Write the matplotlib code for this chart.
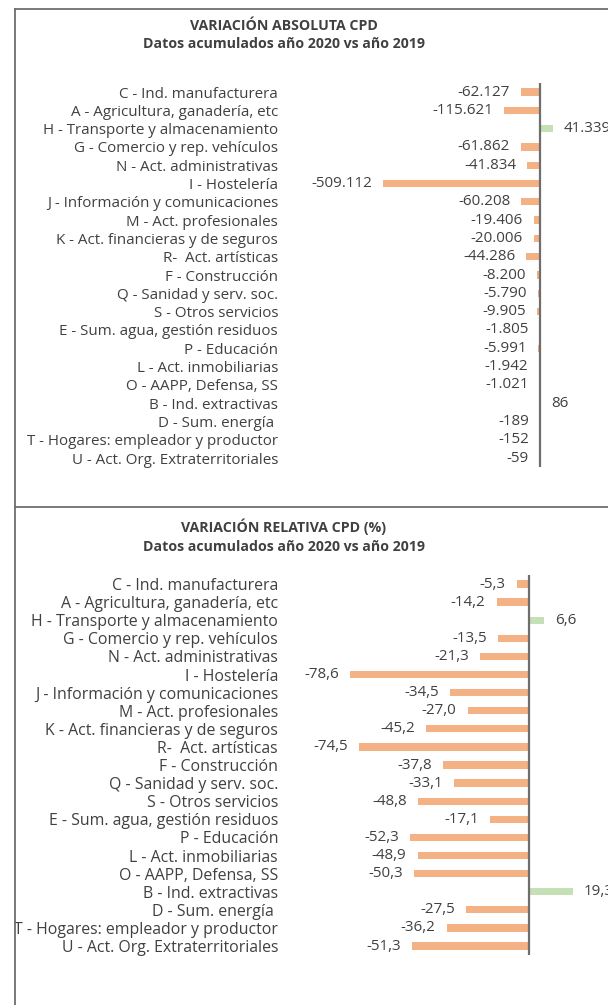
import matplotlib
matplotlib.use("Agg")
import matplotlib.pyplot as plt
from matplotlib.lines import Line2D

plt.rcParams['font.family'] = ['Open Sans', 'DejaVu Sans']

categories = [
    "C - Ind. manufacturera",
    "A - Agricultura, ganadería, etc",
    "H - Transporte y almacenamiento",
    "G - Comercio y rep. vehículos",
    "N - Act. administrativas",
    "I - Hostelería",
    "J - Información y comunicaciones",
    "M - Act. profesionales",
    "K - Act. financieras y de seguros",
    "R-  Act. artísticas",
    "F - Construcción",
    "Q - Sanidad y serv. soc.",
    "S - Otros servicios",
    "E - Sum. agua, gestión residuos",
    "P - Educación",
    "L - Act. inmobiliarias",
    "O - AAPP, Defensa, SS",
    "B - Ind. extractivas",
    "D - Sum. energía ",
    "T - Hogares: empleador y productor",
    "U - Act. Org. Extraterritoriales",
]
abs_values = [-62127, -115621, 41339, -61862, -41834, -509112, -60208, -19406,
              -20006, -44286, -8200, -5790, -9905, -1805, -5991, -1942, -1021,
              86, -189, -152, -59]
rel_values = [-5.3, -14.2, 6.6, -13.5, -21.3, -78.6, -34.5, -27.0, -45.2, -74.5,
              -37.8, -33.1, -48.8, -17.1, -52.3, -48.9, -50.3, 19.3, -27.5,
              -36.2, -51.3]
title_abs = "VARIACIÓN ABSOLUTA CPD\nDatos acumulados año 2020 vs año 2019"
title_rel = "VARIACIÓN RELATIVA CPD (%)\nDatos acumulados año 2020 vs año 2019"

NEG = "#F4B183"
POS = "#C5E0B4"
TXT = "#404040"
LINE = "#6E6E6E"

W, H = 608, 1005
fig = plt.figure(figsize=(W / 100, H / 100), dpi=100)


def px_axes(x0, y0, x1, y1):
    return fig.add_axes([x0 / W, 1 - y1 / H, (x1 - x0) / W, (y1 - y0) / H])


def fmt_abs(v):
    s = f"{abs(v):,}".replace(",", ".")
    return ("-" if v < 0 else "") + s


def fmt_rel(v):
    s = f"{abs(v):.1f}".replace(".", ",")
    return ("-" if v < 0 else "") + s


def panel(values, fmt, ax_px, xlim, fs_cat, fs_val):
    x0, y0, x1, y1 = ax_px
    ax = px_axes(x0, y0, x1, y1)
    n = len(values)
    ypos = list(range(n))
    colors = [NEG if v < 0 else POS for v in values]
    ax.barh(ypos, values, height=0.4, color=colors, zorder=2)
    ax.set_xlim(*xlim)
    ax.set_ylim(n - 0.5, -0.5)
    ax.axvline(0, color=LINE, lw=1.6, zorder=3)
    for s in ax.spines.values():
        s.set_visible(False)
    ax.set_xticks([])
    ax.set_yticks(ypos)
    ax.set_yticklabels(categories, fontsize=fs_cat, color=TXT)
    ax.tick_params(axis='y', length=0, pad=5)
    for y, v in zip(ypos, values):
        if v < 0:
            ax.annotate(fmt(v), (v, y), xytext=(-8, 0), textcoords='offset points',
                        ha='right', va='center', fontsize=fs_val, color=TXT,
                        annotation_clip=False)
        else:
            ax.annotate(fmt(v), (v, y), xytext=(8, 0), textcoords='offset points',
                        ha='left', va='center', fontsize=fs_val, color=TXT,
                        annotation_clip=False)
    return ax


# top panel: zero at x=540 px, -509112 at x=383 px; rows 92..458 px
ppu = (540 - 383) / 509112
xl = (-(540 - 285) / ppu, (608 - 540) / ppu)
row = (458 - 92) / 20
panel(abs_values, fmt_abs, (285, 92 - row * 0.5, 608, 458 + row * 0.5), xl, 10.9, 10.9)

# bottom panel: zero at x=529 px, -78.6 at x=350 px; rows 584..946 px
ppu2 = (529 - 350) / 78.6
xl2 = (-(529 - 285) / ppu2, (608 - 529) / ppu2)
row2 = (946 - 584) / 20
panel(rel_values, fmt_rel, (285, 584 - row2 * 0.5, 608, 946 + row2 * 0.5), xl2, 11.4, 10.9)

# titles
fig.text(284 / W, 1 - 35 / H, title_abs, ha='center', va='center', fontsize=10.2,
         fontweight='bold', color=TXT, linespacing=1.45)
fig.text(284 / W, 1 - 536 / H, title_rel, ha='center', va='center', fontsize=10.2,
         fontweight='bold', color=TXT, linespacing=1.45)

# panel frames
for xs, ys in [([15 / W, 15 / W], [0, 1 - 9 / H]),
               ([15 / W, 1], [1 - 9 / H, 1 - 9 / H]),
               ([15 / W, 1], [1 - 507 / H, 1 - 507 / H])]:
    fig.add_artist(Line2D(xs, ys, transform=fig.transFigure, color=LINE, lw=1.3))

fig.savefig("out.png", dpi=100)
